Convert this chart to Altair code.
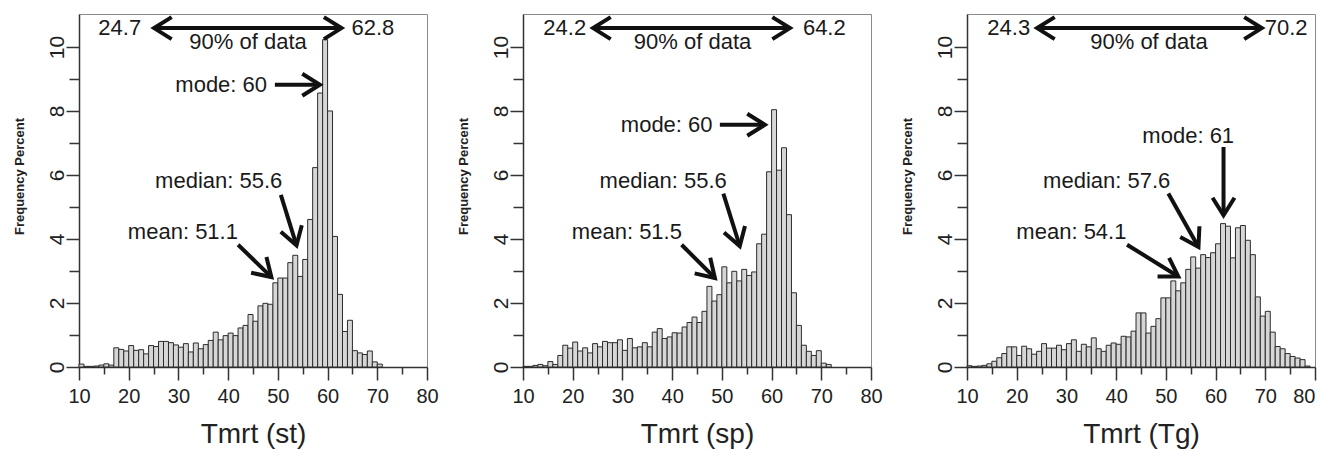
import math
import altair as alt
import pandas as pd

BIN_START = 10

st_pct = [0.09, 0.02, 0.02, 0.03, 0.06, 0.10, 0.06, 0.60, 0.55, 0.50,
          0.67, 0.52, 0.54, 0.41, 0.67, 0.64, 0.80, 0.80, 0.76, 0.69,
          0.62, 0.73, 0.47, 0.75, 0.57, 0.70, 0.83, 1.09, 0.85, 0.98,
          1.06, 0.98, 1.22, 1.30, 1.64, 1.43, 1.91, 1.99, 1.96, 2.63,
          2.78, 2.78, 3.26, 3.49, 2.83, 3.36, 4.61, 6.23, 8.56, 10.23,
          8.00, 4.08, 2.27, 1.11, 1.46, 0.51, 0.44, 0.39, 0.50, 0.16, 0.09]

sp_pct = [0.02, 0.02, 0.05, 0.08, 0.04, 0.17, 0.08, 0.36, 0.68, 0.59,
          0.78, 0.50, 0.60, 0.44, 0.73, 0.63, 0.80, 0.76, 0.76, 0.85,
          0.52, 0.89, 0.60, 0.63, 0.76, 0.63, 1.09, 1.20, 0.89, 0.94,
          1.07, 1.06, 1.25, 1.39, 1.56, 1.39, 1.74, 2.52, 2.06, 2.26,
          3.13, 2.63, 2.99, 2.69, 3.05, 2.86, 2.97, 3.85, 4.15, 6.10,
          8.04, 6.15, 6.85, 4.76, 2.32, 1.30, 0.68, 0.49, 0.36, 0.51, 0.12, 0.08]

tg_pct = [0.04, 0.02, 0.03, 0.05, 0.10, 0.18, 0.29, 0.42, 0.63, 0.63,
          0.36, 0.65, 0.57, 0.40, 0.49, 0.73, 0.59, 0.59, 0.68, 0.54,
          0.73, 0.85, 0.49, 0.71, 0.63, 0.91, 0.57, 0.49, 0.68, 0.75,
          0.71, 0.96, 0.94, 1.12, 1.69, 1.69, 1.06, 1.27, 1.51, 2.16,
          2.16, 2.69, 2.38, 2.63, 3.05, 3.44, 3.09, 3.51, 3.42, 3.57,
          3.85, 4.48, 4.40, 3.41, 4.35, 4.42, 3.96, 3.51, 2.19, 1.59,
          1.74, 1.09, 0.64, 0.57, 0.42, 0.33, 0.28, 0.23, 0.03]

x_titles = ["Tmrt (st)", "Tmrt (sp)", "Tmrt (Tg)"]
p5_values = ["24.7", "24.2", "24.3"]
p95_values = ["62.8", "64.2", "70.2"]
mode_values = ["60", "60", "61"]
median_values = ["55.6", "55.6", "57.6"]
mean_values = ["51.1", "51.5", "54.1"]

span_x = [(25.1, 62.8), (24.1, 63.7), (24.1, 69.3)]
lo_label_x = [22.5, 22.7, 22.7]
hi_label_x = [64.8, 66.3, 69.9]
mid_label_x = [44.0, 44.1, 46.6]
mode_text_xy = [(38.6, 8.59), (38.9, 7.34), (54.5, 7.00)]
mode_arrow = [(49.4, 8.82, 58.45, 8.82), (49.6, 7.57, 58.65, 7.57), (61.6, 6.875, 61.6, 4.74)]
median_text_xy = [(38.1, 5.59), (38.2, 5.59), (38.1, 5.59)]
median_arrow = [(50.6, 5.38, 53.75, 3.80), (50.3, 5.42, 53.6, 3.78), (50.5, 5.42, 56.56, 3.75)]
mean_text_xy = [(30.9, 3.99), (30.9, 3.99), (31.0, 3.99)]
mean_arrow = [(42.0, 3.82, 48.7, 2.81), (41.9, 3.82, 48.6, 2.78), (42.2, 3.82, 52.5, 2.83)]

FONT = "Liberation Sans"
W, H = 348, 353
X_DOM = [10, 80]
Y_DOM = [0, 11.03]
SPAN_Y, SPAN_LABEL_Y, MID_LABEL_Y = 10.59, 10.36, 9.93
INK = "#111111"
HEAD = "M -1.6 -1 L 0 0 L -1.6 1"


def px_angle(x1, y1, x2, y2):
    dx = (x2 - x1) * W / (X_DOM[1] - X_DOM[0])
    dy = -(y2 - y1) * H / (Y_DOM[1] - Y_DOM[0])
    return math.degrees(math.atan2(dy, dx)) % 360


def make_axes(i):
    xkw = dict(
        values=list(range(10, 81, 5)),
        labelExpr="datum.value % 10 == 0 ? datum.label : ''",
        tickSize={"condition": {"test": "datum.value % 10 == 0", "value": 13}, "value": 7},
        labelFlush=False, labelOverlap=False, labelFontSize=20, labelPadding=6,
        labelColor="#222", tickColor="#333", tickWidth=1.5, domainColor="#333", domainWidth=1.5,
        grid=False, title=x_titles[i], titleFontSize=28, titleFontWeight="normal",
        titleColor="#222", titleBaseline="alphabetic", titleY=75,
    )
    if i == 2:
        # keep the last label of the right-most panel inside the page
        xkw["labelAlign"] = {"condition": {"test": "datum.value == 80", "value": "right"},
                             "value": "center"}
    yaxis = alt.Axis(
        values=list(range(0, 11)),
        labelExpr="datum.value % 2 == 0 ? datum.label : ''",
        tickSize={"condition": {"test": "datum.value % 2 == 0", "value": 13}, "value": 10},
        labelAngle=-90, labelAlign="center", labelBaseline="alphabetic",
        labelOverlap=False, labelFlush=False, labelFontSize=21, labelPadding=3,
        labelColor="#222", tickColor="#333", tickWidth=1.5, domainColor="#333", domainWidth=1.5,
        grid=False, title="Frequency Percent", titleFontSize=13, titleFontWeight="bold",
        titleColor="#222", titleAngle=-90, titleX=-60, titleY=162,
        titleAlign="center", titleBaseline="middle",
    )
    return alt.Axis(**xkw), yaxis


def panel(i, vals):
    xs = alt.Scale(domain=X_DOM, nice=False, zero=False)
    ys = alt.Scale(domain=Y_DOM, nice=False)
    xa, ya = make_axes(i)
    df = pd.DataFrame({"start": [BIN_START + k for k in range(len(vals))], "pct": vals})
    df["end"] = df["start"] + 1
    df["base"] = 0.0

    bars = alt.Chart(df).mark_bar(fill="#d6d6d6", stroke="#2b2b2b", strokeWidth=1).encode(
        x=alt.X("start:Q", scale=xs, axis=xa),
        x2="end:Q",
        y=alt.Y("pct:Q", scale=ys, axis=ya),
        y2="base:Q",
    )

    lo, hi = span_x[i]
    segs = [(lo, SPAN_Y, hi, SPAN_Y), mode_arrow[i], median_arrow[i], mean_arrow[i]]
    seg_df = pd.DataFrame(segs, columns=["x1", "y1", "x2", "y2"])
    heads = [(lo, SPAN_Y, 180.0)]
    for (x1, y1, x2, y2) in segs:
        heads.append((x2, y2, px_angle(x1, y1, x2, y2)))
    head_df = pd.DataFrame(heads, columns=["x", "y", "ang"])

    shafts = alt.Chart(seg_df).mark_rule(strokeWidth=4, color=INK, strokeCap="butt").encode(
        x=alt.X("x1:Q", scale=xs, axis=xa), y=alt.Y("y1:Q", scale=ys, axis=ya),
        x2="x2:Q", y2="y2:Q",
    )
    tips = alt.Chart(head_df).mark_point(
        shape=HEAD, size=484, filled=False, strokeWidth=4, color=INK, opacity=1, strokeJoin="miter"
    ).encode(
        x=alt.X("x:Q", scale=xs, axis=xa), y=alt.Y("y:Q", scale=ys, axis=ya),
        angle=alt.Angle("ang:Q", scale=None),
    )

    ctext = pd.DataFrame([
        (mid_label_x[i], MID_LABEL_Y, "90% of data"),
        (mode_text_xy[i][0], mode_text_xy[i][1], "mode: " + mode_values[i]),
        (median_text_xy[i][0], median_text_xy[i][1], "median: " + median_values[i]),
        (mean_text_xy[i][0], mean_text_xy[i][1], "mean: " + mean_values[i]),
    ], columns=["x", "y", "t"])
    rtext = pd.DataFrame([(lo_label_x[i], SPAN_LABEL_Y, p5_values[i])], columns=["x", "y", "t"])
    ltext = pd.DataFrame([(hi_label_x[i], SPAN_LABEL_Y, p95_values[i])], columns=["x", "y", "t"])

    def texts(d, align):
        return alt.Chart(d).mark_text(
            align=align, baseline="alphabetic", fontSize=22, font=FONT, color="#1a1a1a"
        ).encode(
            x=alt.X("x:Q", scale=xs, axis=xa), y=alt.Y("y:Q", scale=ys, axis=ya), text="t:N"
        )

    return alt.layer(bars, shafts, tips, texts(ctext, "center"), texts(rtext, "right"),
                     texts(ltext, "left")).properties(width=W, height=H)


panels = [panel(0, st_pct), panel(1, sp_pct), panel(2, tg_pct)]

chart = (
    alt.hconcat(*panels, spacing=96, bounds="flush")
    .properties(padding={"left": 4, "top": 0, "right": 0, "bottom": 0})
    .configure(font=FONT)
    .configure_view(stroke="#8a8a8a", strokeWidth=1)
    .configure_axis(labelFont=FONT, titleFont=FONT)
)

chart.save("out.html", embed_options={"renderer": "svg", "actions": False})
